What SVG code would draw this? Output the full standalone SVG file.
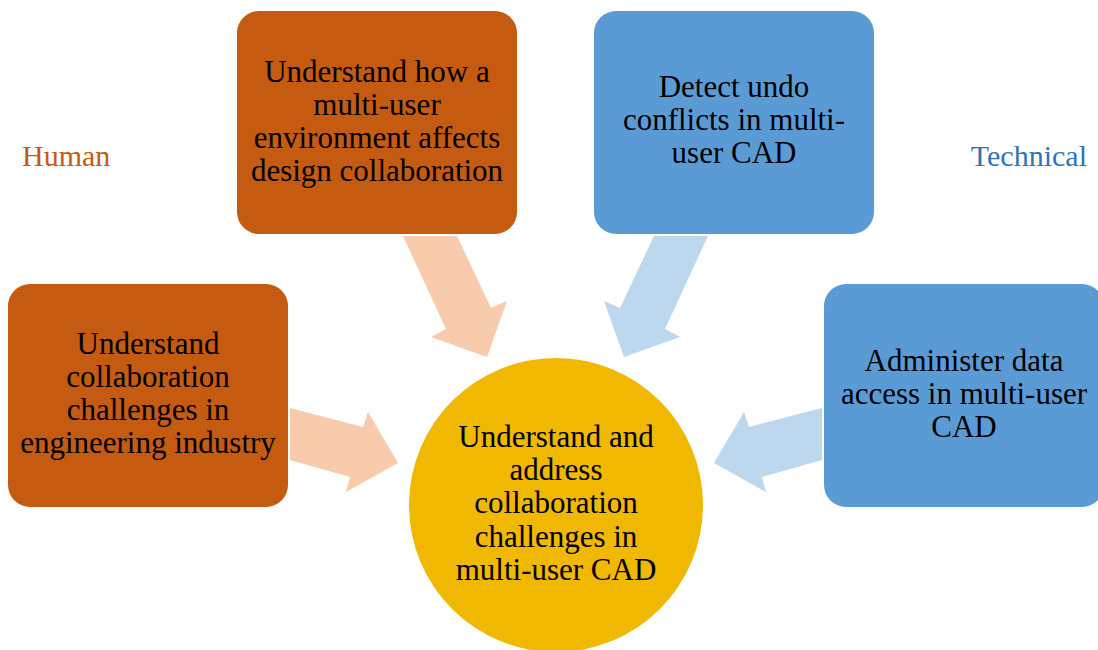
<svg xmlns="http://www.w3.org/2000/svg" width="1098" height="650" viewBox="0 0 1098 650">
<style>
.t{font-family:"Liberation Serif","Times New Roman",serif;font-size:31px;fill:#000;text-anchor:middle}
.lbl{font-family:"Liberation Serif","Times New Roman",serif;font-size:30px}
.org{fill:#C55A11}
.blu{fill:#5B9BD5}
.pa{fill:#F8CBAD}
.ba{fill:#BDD7EE}
</style>
<rect width="1098" height="650" fill="#fff"/>
<text class="lbl" x="22" y="166" fill="#C55A11">Human</text>
<text class="lbl" x="1087" y="166" fill="#2E75B6" text-anchor="end">Technical</text>
<g id="connectors">
<polygon class="pa" points="403,236 457,236 491,308 507,301 487,357 431,337 446,329"/>
<polygon class="ba" points="708,236 654,236 620,308 604,301 624,357 680,337 665,329"/>
<polygon class="pa" points="290,408 363,427 368,412 398,463 346,492 350,477 290,460"/>
<polygon class="ba" points="822,408 749,427 744,412 714,463 766,492 762,477 822,460"/>
</g>
<g id="n-top-left">
<rect class="org" x="237" y="11" width="280" height="223" rx="22"/>
<text class="t" x="377" y="82">Understand how a</text>
<text class="t" x="377" y="115">multi-user</text>
<text class="t" x="377" y="148">environment affects</text>
<text class="t" x="377" y="181">design collaboration</text>
</g>
<g id="n-top-right">
<rect class="blu" x="594" y="11" width="280" height="223" rx="22"/>
<text class="t" x="734" y="97">Detect undo</text>
<text class="t" x="734" y="130">conflicts in multi-</text>
<text class="t" x="734" y="163">user CAD</text>
</g>
<g id="n-left">
<rect class="org" x="8" y="284" width="280" height="223" rx="22"/>
<text class="t" x="148" y="354">Understand</text>
<text class="t" x="148" y="387">collaboration</text>
<text class="t" x="148" y="420">challenges in</text>
<text class="t" x="148" y="453">engineering industry</text>
</g>
<g id="n-right">
<rect class="blu" x="824" y="284" width="280" height="223" rx="22"/>
<text class="t" x="964" y="371">Administer data</text>
<text class="t" x="964" y="404">access in multi-user</text>
<text class="t" x="964" y="437">CAD</text>
</g>
<g id="n-center">
<circle cx="556" cy="505" r="147" fill="#F0B800"/>
<text class="t" x="556" y="447">Understand and</text>
<text class="t" x="556" y="480">address</text>
<text class="t" x="556" y="513">collaboration</text>
<text class="t" x="556" y="547">challenges in</text>
<text class="t" x="556" y="580">multi-user CAD</text>
</g>
</svg>
